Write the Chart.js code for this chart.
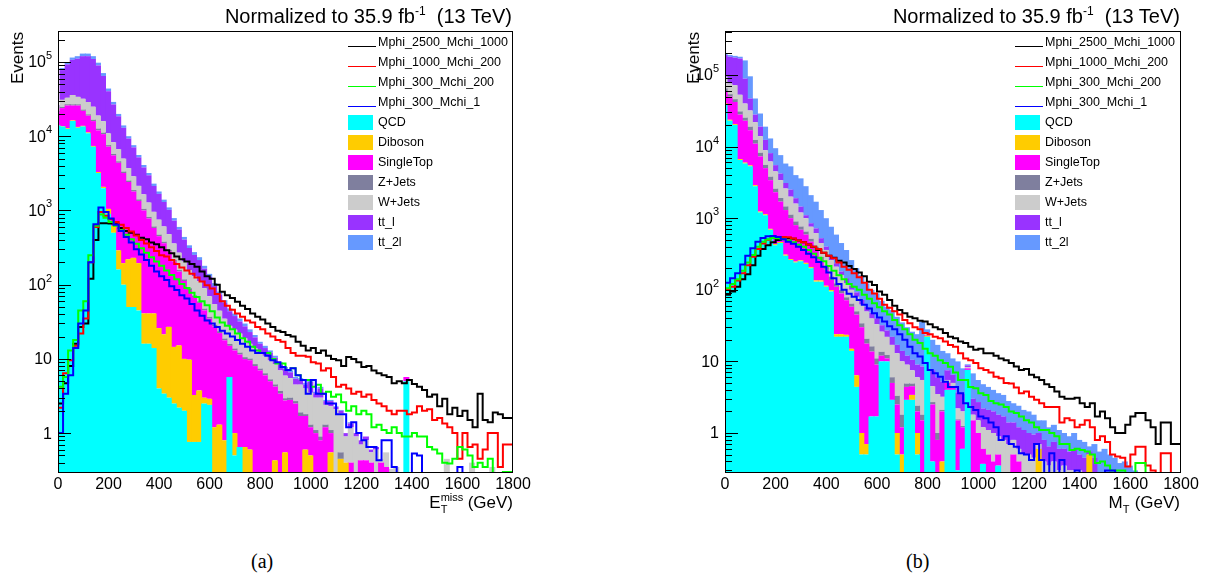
<!DOCTYPE html>
<html>
<head>
<meta charset="utf-8">
<script src="https://cdn.jsdelivr.net/npm/chart.js@4.4.1/dist/chart.umd.min.js"></script>
<style>
  html, body { margin: 0; padding: 0; background: #fff; }
  #page {
    position: relative; width: 1212px; height: 580px; background: #fff; overflow: hidden;
    font-family: "Liberation Sans", Arial, Helvetica, sans-serif; color: #000;
  }
  canvas { position: absolute; top: 0; }
  .txt { position: absolute; white-space: nowrap; line-height: 1; }
  .title { font-size: 20px; top: 5px; }
  .title sup { font-size: 12px; }
  .ytitle { font-size: 17px; top: 32px; writing-mode: vertical-rl; transform: rotate(180deg); line-height: 18px; }
  .xtitle { font-size: 17px; top: 494px; }
  .ss { position: relative; display: inline-block; height: 17px; vertical-align: top; }
  .ss span { position: absolute; left: 0; font-size: 11px; }
  .leg { font-size: 12.5px; line-height: 14px; }
  .cap { font-family: "Liberation Serif", "Times New Roman", serif; font-size: 20px; top: 551px; }
</style>
</head>
<body>
<div id="page">
  <canvas id="chartA" width="535" height="500" style="left:0"></canvas>
  <canvas id="chartB" width="535" height="500" style="left:667px"></canvas>

  <div class="txt title" style="right:700px">Normalized to 35.9 fb<sup>-1</sup>&nbsp; (13 TeV)</div>
  <div class="txt title" style="right:32px">Normalized to 35.9 fb<sup>-1</sup>&nbsp; (13 TeV)</div>

  <div class="txt ytitle" style="left:9px">Events</div>
  <div class="txt ytitle" style="left:685px">Events</div>

  <div class="txt xtitle" style="right:699px">E<span class="ss" style="width:27px"><span style="top:-2px">miss</span><span style="top:10px">T</span></span>(GeV)</div>
  <div class="txt xtitle" style="right:32px">M<span class="ss" style="width:12px"><span style="top:10px">T</span></span>(GeV)</div>

  <div class="txt cap" style="left:251px">(a)</div>
  <div class="txt cap" style="left:906px">(b)</div>
</div>

<script>
// ---- bins: 20 GeV from 0 to 1800 ----
const binEdges = Array.from({ length: 91 }, (_, i) => i * 20);
const binLabels = binEdges.slice(0, 90).map(e => String(e));
const xTicks = [0, 200, 400, 600, 800, 1000, 1200, 1400, 1600, 1800];
const yTickLabels = [[1, '1', ''], [10, '10', ''], [100, '10', '2'], [1000, '10', '3'], [10000, '10', '4'], [100000, '10', '5']];

// ---- panel (a): missing ET ----
const qcdA = [
  14000, 13500, 12500, 16000, 13000, 13500, 11000, 7200, 3200, 2000,
  900, 500, 160, 100, 50, 50, 45, 16, 16, 14,
  4, 3.4, 3, 2.5, 2.2, 2, 0.76, 0.76, 0.76, 2.5,
  2.4, 0, 0, 0, 5.7, 0.5, 0.65, 0, 0, 0,
  0, 0, 0, 0, 0, 0, 0, 0, 0, 0,
  0, 0, 0, 0, 0, 0, 0, 0, 0, 0,
  0, 0, 0, 0, 0, 0, 0, 0, 0, 5,
  0, 0, 0, 0, 0, 0, 0, 0, 0, 0,
  0, 0, 0, 0, 0, 0, 0, 0, 0, 0];
const dibosonA = [
  200, 250, 300, 350, 350, 300, 250, 200, 100, 80,
  150, 120, 130, 95, 170, 180, 150, 25, 25, 27,
  22, 18, 24, 12, 13, 8, 9, 2.5, 3, 0.5,
  0.5, 1.2, 1.3, 0.8, 0, 0.5, 0, 0.65, 0.6, 0,
  0, 0, 0, 0.43, 0, 0.55, 0, 0, 0, 0.6,
  0.5, 0, 0, 0, 0.55, 0, 0.45, 0.4, 0, 0,
  0, 0, 0, 0, 0, 0, 0, 0, 0, 0,
  0, 0, 0, 0, 0, 0, 0, 0, 0, 0,
  0, 0, 0, 0, 0, 0, 0, 0, 0, 0];
const singleTopA = [
  6800, 10200, 13200, 9600, 12600, 8200, 7700, 8600, 8700, 8600,
  6200, 4900, 4100, 3000, 2200, 1570, 1150, 960, 740, 540,
  424, 340, 253, 190, 135, 102, 75, 65, 53, 42,
  32, 26, 21, 17, 9.3, 12, 10.8, 9.3, 9, 8,
  7, 6, 5, 3.8, 3.4, 2.2, 2.8, 2.5, 1.7, 1.1,
  0.7, 1, 0.8, 1.2, 0.45, 0, 0, 0, 0.4, 0,
  0.43, 0.43, 0.4, 0, 0.4, 0.35, 0, 0, 0, 0.7,
  0, 0, 0, 0, 0, 0, 0, 0, 0, 0,
  0, 0, 0, 0, 0, 0, 0, 0, 0, 0];
const zJetsA = [
  800, 900, 1000, 1000, 1000, 900, 800, 700, 700, 500,
  350, 260, 210, 150, 110, 85, 65, 50, 38, 28,
  22, 18, 14, 10, 8, 6, 4.5, 3.5, 3, 2.5,
  2, 1.6, 1.3, 1, 0.9, 0.8, 0.7, 0.6, 0.5, 0.5,
  0.4, 0.4, 0.3, 0.3, 0.3, 0.2, 0.2, 0.2, 0.2, 0.1,
  0.1, 0.1, 0.1, 0.1, 0.1, 0.1, 0.1, 0, 0, 0,
  0, 0, 0, 0, 0, 0, 0, 0, 0, 0,
  0, 0, 0, 0, 0, 0, 0, 0, 0, 0,
  0, 0, 0, 0, 0, 0, 0, 0, 0, 0];
const wJetsA = [
  3200, 6100, 6000, 9000, 7000, 9100, 9200, 8300, 6300, 4800,
  3350, 2540, 2090, 1650, 1190, 1000, 735, 600, 460, 350,
  280, 230, 186, 145, 112, 87, 68, 58, 52, 42,
  33, 26, 21, 16, 12, 11, 9.8, 8.4, 5.9, 5.5,
  4.6, 4.6, 4.2, 4, 3.3, 3, 2.5, 1.8, 2.6, 2.2,
  2.2, 1.9, 2.1, 1.1, 1.2, 2, 1.3, 0.5, 0.8, 0.9,
  0.27, 0.37, 0.15, 0.6, 0.05, 0.2, 0.33, 0.35, 0, 0,
  0, 0, 0, 0, 0, 0, 0, 0.45, 0, 0,
  0, 0, 0.4, 0, 0, 0, 0.35, 0, 0, 0];
const ttlA = [
  1000, 47000, 60000, 71000, 77000, 88000, 91000, 85000, 71000, 49000,
  29500, 18500, 11900, 8000, 5600, 4200, 3050, 2150, 1700, 1180,
  920, 690, 540, 370, 285, 200, 155, 122, 103, 75,
  58, 41, 29, 22, 16, 13, 10, 8.5, 7, 5.5,
  4, 3, 2.6, 1.9, 1.5, 1.4, 1.1, 0.9, 0.8, 0.5,
  1.4, 0.45, 1, 0.3, 0.4, 0.15, 0.15, 0.1, 0.15, 0.1,
  0.1, 0.1, 0.05, 0.05, 0, 0, 0, 0, 0, 0,
  0, 0, 0, 0, 0, 0, 0, 0, 0, 0,
  0, 0, 0, 0, 0, 0, 0, 0, 0, 0];
const tt2lA = [
  100, 5000, 7000, 8000, 9000, 10000, 10000, 10000, 8000, 6000,
  3500, 2200, 1400, 1000, 700, 500, 400, 300, 220, 160,
  130, 100, 80, 60, 45, 35, 27, 23, 20, 15,
  12, 9, 7, 5, 4, 3, 3, 2.5, 2, 1.5,
  1, 1, 0.9, 0.6, 0.5, 0.4, 0.4, 0.3, 0.2, 0.2,
  0.3, 0.15, 0.2, 0.1, 0.1, 0.05, 0.05, 0, 0.05, 0,
  0, 0, 0, 0, 0, 0, 0, 0, 0, 0,
  0, 0, 0, 0, 0, 0, 0, 0, 0, 0,
  0, 0, 0, 0, 0, 0, 0, 0, 0, 0];
const sig2500A = [
  0.4, 2.5, 4.7, 8, 16, 27, 30, 120, 400, 670,
  670, 665, 650, 580, 530, 500, 470, 430, 410, 370,
  350, 320, 290, 265, 240, 220, 205, 190, 174, 150,
  130, 120, 100, 80, 72, 66, 59, 52, 47, 41,
  37, 34, 30, 27, 24, 23, 21, 20, 17, 15,
  13, 14, 12, 13, 11, 10, 9.6, 8, 10.6, 10,
  9, 7.8, 8, 7, 6.4, 6, 5.7, 4.7, 5, 4.7,
  5.2, 4.6, 4.2, 3.8, 3.1, 3.3, 2.3, 2.9, 1.8, 2.2,
  1.7, 2, 1.5, 1.2, 3.4, 1.5, 1.4, 1.9, 1.8, 1.6];
const sig1000A = [
  0.3, 2.2, 6.4, 9.6, 15, 22, 35, 200, 600, 950,
  850, 760, 700, 640, 580, 520, 460, 400, 360, 320,
  285, 250, 240, 215, 190, 170, 155, 140, 125, 110,
  98, 89, 75, 60, 52, 46, 41, 37, 33, 31,
  27, 25, 22, 20, 18, 17, 14, 12, 11, 11,
  10.7, 9, 8.7, 7, 7.5, 5.7, 4.2, 4.5, 4, 3.4,
  3.6, 3.1, 3.3, 2.8, 2.5, 2.3, 2, 1.8, 2, 2,
  1.8, 1.9, 2.3, 2, 2.1, 1.5, 1.6, 1.35, 1.2, 1,
  0.45, 1, 0.65, 0.7, 0.45, 0.6, 1, 1, 0.35, 0.7];
const sig300_200A = [
  1.3, 4.2, 5.7, 13, 18, 45, 60, 250, 620, 880,
  800, 700, 620, 540, 470, 410, 355, 310, 270, 235,
  205, 180, 155, 135, 118, 102, 90, 78, 68, 60,
  53, 44, 36, 31, 28, 25, 22, 19, 17, 14.6,
  13, 12, 12, 10, 8.7, 8.7, 7.1, 7.5, 6, 5.2,
  5.2, 4.2, 4.5, 3.4, 3.6, 3.1, 3.3, 2.6, 2, 2.3,
  1.8, 2, 1.8, 1.2, 1.3, 1.1, 1, 1.2, 1, 0.9,
  0.9, 1, 0.9, 0.9, 0.65, 0.6, 0.53, 0.4, 0.39, 0.45,
  0.65, 0.6, 0.5, 0.35, 0.4, 0.35, 0.45, 0, 0, 0.3];
const sig300_1A = [
  0, 1, 3.4, 6, 14, 30, 45, 200, 650, 1100,
  950, 780, 640, 530, 440, 370, 300, 255, 215, 180,
  150, 130, 116, 95, 85, 72, 65, 55, 45, 38,
  33, 30, 27, 24, 22, 20, 18, 16, 14.6, 13,
  12, 12, 11, 9.6, 9, 7.8, 7.1, 7.5, 6, 5.2,
  3.4, 5.2, 3.4, 3.4, 2.5, 2.5, 1.8, 1.8, 1.2, 1.4,
  1, 0.8, 0.65, 0.65, 0.43, 0.8, 0.8, 0.35, 0, 0,
  0, 0.53, 0.5, 0, 0, 0, 0, 0, 0, 0,
  0.35, 0, 0, 0, 0, 0, 0, 0, 0, 0];

// ---- panel (b): transverse mass ----
const qcdB = [
  39000, 23000, 20000, 6500, 5800, 5300, 2800, 1200, 1100, 690,
  420, 450, 300, 260, 240, 250, 230, 200, 130, 130,
  110, 95, 22, 22, 22, 14, 4.4, 0.5, 0.5, 1.7,
  1.7, 10, 10, 2.9, 0.5, 0, 2.9, 2.9, 0.5, 0,
  22, 0.4, 0, 0, 4, 4, 0.3, 0.6, 7.6, 0,
  0, 0.37, 0, 0, 0.35, 0, 0, 0, 0, 0,
  0, 0, 0, 0, 0, 0, 0, 0, 0, 0,
  0, 0, 0, 0, 0, 0, 0, 0, 0, 0,
  0, 0, 0, 0, 0, 0, 0, 0, 0, 0];
const dibosonB = [
  1200, 700, 600, 200, 180, 160, 90, 40, 35, 20,
  15, 15, 10, 8, 8, 8, 8, 7, 5, 5,
  4, 4, 2, 2, 1.5, 1, 2, 0.5, 0.2, 0,
  0, 0, 0, 0, 0.5, 0.5, 0, 0.5, 0.5, 0,
  0.8, 0, 0, 0.4, 0, 0, 0, 0, 0, 0,
  0, 0, 0, 0, 0, 0, 0, 0, 0, 0,
  0, 0, 0.6, 0, 0, 0, 0, 0, 0, 0,
  0, 0, 0.5, 0, 0, 0, 0, 0, 0, 0,
  0, 0, 0, 0, 0, 0, 0, 0, 0, 0];
const singleTopB = [
  18800, 26300, 21400, 21300, 17000, 11500, 8100, 6060, 3870, 2690,
  1870, 1240, 990, 732, 552, 432, 352, 263, 225, 125,
  76, 38, 86, 65, 48, 43, 38.6, 29, 17, 12,
  7.3, 2, 1, 2.1, 1.5, 0.7, 1.5, 1.1, 1, 1.5,
  0.5, 2.1, 0.8, 1.6, 1, 0.5, 1.2, 0.6, 0.4, 1.5,
  1, 0.23, 0.5, 0.4, 0.15, 0, 0, 0.5, 0.4, 0,
  0, 0, 0, 0, 0, 0, 0, 0, 0, 0,
  0, 0, 0, 0, 0, 0, 0, 0, 0, 0,
  0, 0, 0, 0, 0, 0, 0, 0, 0, 0];
const zJetsB = [
  6000, 4000, 4000, 3000, 2400, 2000, 1400, 900, 550, 400,
  280, 210, 160, 120, 100, 75, 60, 45, 38, 28,
  22, 16, 13, 10, 7, 6, 5, 4, 3, 2.5,
  2, 1.6, 1.3, 1, 0.8, 0.6, 0.5, 0.4, 0.4, 0.3,
  0.1, 0.2, 0.2, 0.1, 0.05, 0.05, 0.05, 0.05, 0, 0,
  0, 0, 0, 0, 0, 0, 0, 0, 0, 0,
  0, 0, 0, 0, 0, 0, 0, 0, 0, 0,
  0, 0, 0, 0, 0, 0, 0, 0, 0, 0,
  0, 0, 0, 0, 0, 0, 0, 0, 0, 0];
const wJetsB = [
  30000, 22000, 26000, 22000, 14600, 13000, 9600, 5800, 3350, 2400,
  1920, 1490, 1140, 880, 700, 435, 350, 245, 222, 162,
  148, 107, 87, 61, 44, 36, 30, 28, 29, 23.5,
  22, 12.4, 9.7, 11, 9.7, 8.2, 4.1, 2.6, 3.6, 3.7,
  0.6, 1.8, 2.5, 1.1, 0.45, 0.45, 0.65, 0.75, 0.3, 0.3,
  0.5, 0.6, 0.6, 0.6, 0.4, 0.8, 0.7, 0.3, 0.2, 0.5,
  0.5, 0.45, 0.1, 0.4, 0.35, 0.4, 0.3, 0.35, 0.3, 0.3,
  0.3, 0.25, 0, 0.25, 0, 0, 0, 0, 0, 0,
  0, 0, 0, 0, 0, 0, 0, 0, 0, 0];
const ttlB = [
  95000, 104000, 103000, 117000, 49000, 15000, 6000, 5000, 3500, 1900,
  1000, 800, 500, 500, 300, 250, 100, 90, 100, 75,
  40, 30, 25, 20, 22, 15, 12, 10, 8, 8,
  7, 6, 5, 5, 4, 4, 3, 3, 3, 3,
  1, 3, 2.5, 2, 2, 1.5, 1.5, 1.5, 0.5, 1.2,
  1.2, 1, 1, 1, 0.9, 0.9, 0.7, 0.6, 0.6, 0.6,
  0.5, 0.5, 0.3, 0.4, 0.3, 0.35, 0.3, 0.25, 0.25, 0.3,
  0.2, 0.2, 0.05, 0.2, 0.25, 0.25, 0.2, 0.2, 0.15, 0.15,
  0.1, 0.1, 0, 0, 0, 0, 0, 0, 0, 0];
const tt2lB = [
  10000, 10000, 10000, 10000, 71000, 49000, 19000, 10000, 6600, 4900,
  4000, 3400, 2700, 2800, 2100, 2150, 1700, 1250, 980, 775,
  600, 470, 355, 270, 215, 145, 108, 88, 65, 52,
  49, 38, 31, 30, 25, 21, 18, 15.5, 15, 27.5,
  3, 12.5, 11, 8.8, 5.5, 4.5, 6.3, 4.5, 0.3, 3.8,
  2.8, 2.6, 2.3, 2, 1.8, 1.7, 1.4, 1.2, 1.2, 1,
  1, 0.85, 0.5, 0.7, 0.55, 0.55, 0.5, 0.4, 0.35, 0.4,
  0.3, 0.3, 0.1, 0.25, 0.3, 0.35, 0.3, 0.25, 0.23, 0.25,
  0.25, 0.2, 0, 0, 0, 0, 0, 0, 0, 0];
const sig2500B = [
  80, 85, 95, 110, 140, 165, 220, 300, 370, 420,
  460, 495, 515, 525, 515, 490, 460, 430, 400, 360,
  330, 300, 280, 255, 240, 215, 195, 175, 155, 130,
  117, 95, 85, 72, 60, 52, 47, 42, 40, 37,
  36, 33, 30, 28, 25, 22, 21, 19, 18, 16,
  14.5, 15, 13, 13, 12, 11, 10.4, 9.5, 8.5, 7.6,
  7.8, 6.5, 6, 5.5, 4.8, 4.4, 3.8, 3.2, 3, 3,
  3.1, 2.6, 2.3, 2.6, 1.7, 2, 1.6, 1.2, 1, 1,
  1.3, 1.7, 1.9, 1.9, 1.5, 1.2, 0.7, 1.4, 1.4, 0.7];
const sig1000B = [
  95, 100, 110, 135, 170, 220, 290, 370, 445, 500,
  530, 545, 545, 540, 520, 490, 460, 430, 400, 370,
  330, 300, 275, 240, 210, 190, 170, 150, 125, 100,
  89, 75, 62, 56, 50, 45, 38, 34, 30, 28,
  25, 24, 22, 21, 19, 17, 16, 13, 11, 10.4,
  9.5, 8, 7.6, 7, 6.1, 5.8, 5, 4.9, 4.3, 3.6,
  3.8, 3.2, 2.9, 2.6, 2.3, 2.3, 2.3, 1.4, 1.6, 1.5,
  1.2, 1.3, 1.5, 1.2, 0.8, 0.9, 0.75, 0.5, 0.47, 0.45,
  0.34, 0.5, 0.64, 0.64, 0.35, 0.3, 0, 0.52, 0.52, 0];
const sig300_200B = [
  99, 105, 120, 140, 185, 240, 305, 400, 470, 510,
  530, 525, 510, 490, 460, 425, 400, 360, 320, 280,
  250, 215, 185, 160, 140, 120, 110, 100, 85, 75,
  65, 57, 50, 45, 38, 32, 28, 24, 20, 18,
  15, 13, 12, 10.4, 9.5, 8.4, 7, 5.5, 5.5, 4.4,
  4.2, 3.6, 3.4, 2.8, 2.6, 2.5, 2.3, 2, 1.9, 1.7,
  1.5, 1.4, 1.2, 1.1, 1.1, 1, 0.9, 0.7, 0.7, 0.58,
  0.6, 0.58, 0.55, 0.5, 0.38, 0.4, 0.35, 0.3, 0.3, 0.3,
  0, 0, 0.38, 0.38, 0, 0, 0, 0, 0, 0];
const sig300_1B = [
  116, 125, 145, 170, 225, 300, 380, 470, 530, 560,
  565, 545, 510, 470, 440, 400, 360, 320, 285, 245,
  210, 175, 145, 120, 100, 88, 80, 72, 62, 55,
  47, 41, 36, 31, 28, 24, 20, 16, 13, 11.7,
  9.5, 7.6, 6.8, 6.1, 5.2, 4.4, 4.4, 3.6, 2.6, 2.3,
  2.1, 1.7, 1.6, 1.4, 1.2, 0.8, 0.9, 0.7, 0.64, 0.52,
  0.5, 0.42, 0.7, 0.42, 0, 0.52, 0, 0.42, 0, 0,
  0.3, 0, 0, 0, 0, 0, 0.3, 0.3, 0, 0,
  0, 0, 0, 0, 0, 0, 0, 0, 0, 0];

// legend entries (signals first, then the stack in drawing order)
const signalNames = ['Mphi_2500_Mchi_1000', 'Mphi_1000_Mchi_200', 'Mphi_300_Mchi_200', 'Mphi_300_Mchi_1'];
const signalColors = ['#000000', '#ff0000', '#00ff00', '#0000ff'];
const bkgNames = ['QCD', 'Diboson', 'SingleTop', 'Z+Jets', 'W+Jets', 'tt_l', 'tt_2l'];
const bkgColors = ['#00ffff', '#ffcc00', '#ff00ff', '#7f7f9e', '#cccccc', '#9933ff', '#6699ff'];

const FONT = '"Liberation Sans", Arial, Helvetica, sans-serif';

// ROOT-like frame, inward ticks on the log axis, and 10^n labels
const rootAxis = {
  id: 'rootAxis',
  afterDatasetsDraw(chart) {
    const { ctx, chartArea: a } = chart;
    const y = chart.scales.y;
    ctx.save();
    ctx.strokeStyle = '#000';
    ctx.lineWidth = 1;
    for (let e = -1; e <= 5; e++) {
      for (let m = 1; m <= 9; m++) {
        const v = m * Math.pow(10, e);
        if (v < y.min || v > y.max) continue;
        const py = Math.round(y.getPixelForValue(v)) + 0.5;
        ctx.beginPath();
        ctx.moveTo(a.left, py);
        ctx.lineTo(a.left + (m === 1 ? 13 : 7), py);
        ctx.stroke();
      }
    }
    ctx.strokeRect(Math.round(a.left) + 0.5, Math.round(a.top) + 0.5,
      Math.round(a.right - a.left) - 1, Math.round(a.bottom - a.top) - 1);
    ctx.restore();
  },
  afterDraw(chart) {
    const { ctx, chartArea: a } = chart;
    const y = chart.scales.y;
    ctx.save();
    ctx.fillStyle = '#000';
    ctx.textBaseline = 'middle';
    yTickLabels.forEach(([v, base, exp]) => {
      const py = y.getPixelForValue(v) + 1;
      ctx.font = '16px ' + FONT;
      if (exp) {
        ctx.textAlign = 'right';
        ctx.fillText(base, a.left - 12, py);
        ctx.font = '11px ' + FONT;
        ctx.textAlign = 'left';
        ctx.fillText(exp, a.left - 12, py - 7);
      } else {
        ctx.textAlign = 'right';
        ctx.fillText(base, a.left - 6, py);
      }
    });
    ctx.restore();
  }
};

// histogram outline: one point per left bin edge, last value carried to the right edge
function stepPoints(vals, yMin) {
  const pts = vals.map((v, i) => ({ x: binEdges[i], y: v > 0 ? v : yMin }));
  const last = vals[vals.length - 1];
  pts.push({ x: binEdges[vals.length], y: last > 0 ? last : yMin });
  return pts;
}

function makeChart(canvasId, stack, signals, yMin, yMax, padRight) {
  const datasets = [];
  stack.forEach((vals, i) => {
    datasets.push({
      type: 'bar',
      label: bkgNames[i],
      data: vals.map(v => (v > 0 ? v : null)),
      backgroundColor: bkgColors[i],
      borderWidth: 0,
      barThickness: 6,
      inflateAmount: 0,
      xAxisID: 'x',
      yAxisID: 'y',
      order: 10,
    });
  });
  signals.forEach((vals, i) => {
    datasets.push({
      type: 'line',
      label: signalNames[i],
      data: stepPoints(vals, yMin),
      borderColor: signalColors[i],
      borderWidth: 2,
      pointRadius: 0,
      fill: false,
      stepped: 'after',
      xAxisID: 'xl',
      yAxisID: 'yl',
      order: 3 - i,
    });
  });

  return new Chart(document.getElementById(canvasId), {
    type: 'bar',
    data: { labels: binLabels, datasets },
    options: {
      responsive: false,
      animation: false,
      events: [],
      layout: { padding: { left: 58, top: 31, right: padRight, bottom: 0 } },
      plugins: { legend: { display: false }, tooltip: { enabled: false } },
      scales: {
        x: { type: 'category', display: false, stacked: true, offset: true },
        y: { type: 'logarithmic', display: false, stacked: true, min: yMin, max: yMax, bounds: 'data' },
        yl: { type: 'logarithmic', display: false, min: yMin, max: yMax, bounds: 'data' },
        xl: {
          type: 'linear',
          position: 'bottom',
          offset: false,
          min: 0,
          max: 1800,
          grid: { display: false, drawTicks: false, offset: false },
          border: { display: false },
          afterBuildTicks: (s) => { s.ticks = xTicks.map(v => ({ value: v })); },
          afterFit: (s) => { s.height = 27; s.paddingLeft = 0; s.paddingRight = 0; },
          ticks: {
            color: '#000',
            font: { family: FONT, size: 16 },
            padding: 2,
            maxRotation: 0,
            autoSkip: false,
            callback: (v) => String(v),
          },
        },
      },
    },
    plugins: [rootAxis],
  });
}

function buildLegend(x0) {
  const page = document.getElementById('page');
  const entries = signalNames.map((n, i) => ({ name: n, color: signalColors[i], line: true }))
    .concat(bkgNames.map((n, i) => ({ name: n, color: bkgColors[i], line: false })));
  entries.forEach((e, i) => {
    const cy = 42 + 20 * i;
    const mark = document.createElement('div');
    mark.style.position = 'absolute';
    mark.style.left = x0 + 'px';
    if (e.line) {
      mark.style.top = (cy + 4) + 'px';
      mark.style.width = '28px';
      mark.style.height = '0';
      mark.style.borderTop = '1px solid ' + e.color;
    } else {
      mark.style.top = (cy - 7) + 'px';
      mark.style.width = '25px';
      mark.style.height = '15px';
      mark.style.background = e.color;
    }
    page.appendChild(mark);
    const label = document.createElement('div');
    label.className = 'txt leg';
    label.style.left = (x0 + 30) + 'px';
    label.style.top = (cy - 7) + 'px';
    label.textContent = e.name;
    page.appendChild(label);
  });
}

makeChart('chartA',
  [qcdA, dibosonA, singleTopA, zJetsA, wJetsA, ttlA, tt2lA],
  [sig2500A, sig1000A, sig300_200A, sig300_1A],
  0.29, 2.62e5, 22);
makeChart('chartB',
  [qcdB, dibosonB, singleTopB, zJetsB, wJetsB, ttlB, tt2lB],
  [sig2500B, sig1000B, sig300_200B, sig300_1B],
  0.276, 4.12e5, 21);

buildLegend(348);
buildLegend(1015);
</script>
</body>
</html>
